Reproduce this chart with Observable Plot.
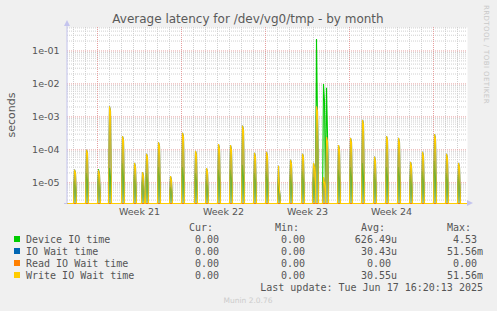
<!DOCTYPE html>
<html>
<head>
<meta charset="utf-8">
<script src="https://cdn.jsdelivr.net/npm/d3@7"></script>
<script src="https://cdn.jsdelivr.net/npm/@observablehq/plot@0.6"></script>
<style>
  html, body { margin: 0; padding: 0; background: #f0f0f0; }
  #chart { width: 497px; height: 311px; }
</style>
</head>
<body>
<div id="chart"></div>
<script>
// ---------- data ----------
const titleText = "Average latency for /dev/vg0/tmp - by month";
const yLabel = "seconds";
const yTicks = [1e-5, 1e-4, 1e-3, 1e-2, 1e-1];
const yTickLabels = ["1e-05", "1e-04", "1e-03", "1e-02", "1e-01"];
const weekStarts = ["2025-05-19", "2025-05-26", "2025-06-02", "2025-06-09"];
const weekLabels = ["Week 21", "Week 22", "Week 23", "Week 24"];

// daily spikes: sample time, first and second 2-hour samples (seconds)
const spikeTimes = [
  "2025-05-17T02:00Z","2025-05-18T02:00Z","2025-05-19T02:00Z","2025-05-20T00:00Z",
  "2025-05-21T02:00Z","2025-05-22T02:00Z","2025-05-22T18:00Z","2025-05-23T02:00Z",
  "2025-05-24T02:00Z","2025-05-25T02:00Z","2025-05-26T02:00Z","2025-05-27T04:00Z",
  "2025-05-28T02:00Z","2025-05-29T02:00Z","2025-05-30T02:00Z","2025-05-31T02:00Z",
  "2025-06-01T02:00Z","2025-06-02T02:00Z","2025-06-03T02:00Z","2025-06-04T02:00Z",
  "2025-06-05T02:00Z","2025-06-06T00:00Z","2025-06-06T06:00Z","2025-06-06T20:00Z",
  "2025-06-07T02:00Z","2025-06-08T02:00Z","2025-06-09T02:00Z","2025-06-10T02:00Z",
  "2025-06-11T02:00Z","2025-06-12T02:00Z","2025-06-13T02:00Z","2025-06-14T02:00Z",
  "2025-06-15T02:00Z","2025-06-16T02:00Z","2025-06-17T02:00Z","2025-06-18T02:00Z"
];
const writeWaitA = [2.5e-5,1.0e-4,2.4e-5,2.1e-3,2.6e-4,4.0e-5,2.1e-5,7.6e-5,
  1.7e-4,1.6e-5,3.3e-4,9.3e-5,2.8e-5,1.5e-4,1.4e-4,5.4e-4,
  8.1e-5,8.7e-5,3.3e-5,5.0e-5,7.6e-5,4.0e-5,2.1e-3,1.5e-5,
  2.5e-4,1.4e-4,2.3e-4,8.1e-4,6.2e-5,2.6e-4,2.3e-4,4.3e-5,
  8.7e-5,3.0e-4,7.6e-5,4.0e-5];
const writeWaitB = [2.0e-5,8.0e-5,1.8e-5,1.5e-3,2.0e-4,3.0e-5,1.6e-5,6.0e-5,
  1.3e-4,1.2e-5,2.5e-4,7.0e-5,2.2e-5,1.1e-4,1.0e-4,4.0e-4,
  6.0e-5,6.5e-5,6.0e-6,3.8e-5,6.0e-5,3.0e-5,1.5e-3,1.0e-5,
  1.8e-4,1.0e-4,1.7e-4,6.0e-4,4.5e-5,2.0e-4,1.7e-4,3.2e-5,
  6.5e-5,2.2e-4,5.5e-5,3.0e-5];
const ioWaitA = writeWaitA;   // IO Wait time is drawn identical to Write IO Wait time
const ioWaitB = writeWaitB;
const deviceA = [1.2e-5,2.0e-5,2.6e-5,2.8e-5,3.9e-5,1.8e-5,1.2e-5,2.0e-5,
  3.0e-5,7.5e-6,3.0e-5,2.0e-5,1.2e-5,2.5e-5,2.5e-5,3.5e-5,
  2.0e-5,2.2e-5,1.5e-5,1.8e-5,2.2e-5,1.5e-5,2.3e-1,1.0e-2,
  7.6e-3,2.5e-5,3.0e-5,4.0e-5,2.0e-5,3.0e-5,3.0e-5,1.8e-5,
  2.2e-5,4.6e-5,2.0e-5,1.8e-5];
const deviceB = [8.0e-6,1.2e-5,1.0e-5,1.5e-5,1.5e-5,1.0e-5,8.0e-6,1.2e-5,
  1.5e-5,6.0e-6,1.5e-5,1.2e-5,8.0e-6,1.3e-5,1.3e-5,1.5e-5,
  1.2e-5,1.2e-5,5.0e-6,1.0e-5,1.2e-5,1.0e-5,8.0e-4,3.0e-3,
  3.0e-4,1.3e-5,1.5e-5,1.5e-5,1.2e-5,1.5e-5,1.5e-5,1.0e-5,
  1.2e-5,1.5e-5,1.2e-5,1.0e-5];

const seriesNames = ["Device IO time", "IO Wait time", "Read IO Wait time", "Write IO Wait time"];
const seriesColors = ["#00cc00", "#0066b3", "#ff8000", "#ffcc00"];
const curVals = ["0.00", "0.00", "0.00", "0.00"];
const minVals = ["0.00", "0.00", "0.00", "0.00"];
const avgVals = ["626.49u", "30.43u", "0.00", "30.55u"];
const maxVals = ["4.53", "51.56m", "0.00", "51.56m"];
const lastUpdate = "Last update: Tue Jun 17 16:20:13 2025";
const footer = "Munin 2.0.76";
const sideText = "RRDTOOL / TOBI OETIKER";

// ---------- build series ----------
const xDomain = [new Date("2025-05-16T12:00Z"), new Date("2025-06-18T20:00Z")];
const yDomain = [2.36e-6, 0.515];
const H2 = 2 * 3600 * 1000;

function buildSeries(a, b) {
  const out = [{t: xDomain[0], v: 0}];
  spikeTimes.forEach((s, i) => {
    const t = new Date(s);
    out.push({t: new Date(+t - H2), v: 0});
    out.push({t: t, v: a ? a[i] : 0});
    out.push({t: new Date(+t + H2), v: b ? b[i] : 0});
    out.push({t: new Date(+t + 2 * H2), v: 0});
  });
  out.push({t: xDomain[1], v: 0});
  out.sort((p, q) => p.t - q.t);
  return out;
}
const series = [
  buildSeries(deviceA, deviceB),
  buildSeries(ioWaitA, ioWaitB),
  buildSeries(null, null),          // Read IO Wait time: all zero
  buildSeries(writeWaitA, writeWaitB)
];

const minorY = [];
for (let e = -6; e <= 0; e++) for (let m = 2; m <= 9; m++) {
  const v = m * Math.pow(10, e);
  if (v > yDomain[0] && v < yDomain[1]) minorY.push(v);
}
const weekGrid = d3.utcMonday.range(xDomain[0], xDomain[1]);
const dayGrid = d3.utcDay.range(xDomain[0], xDomain[1]).filter(d => d.getUTCDay() !== 1);
const weekMid = weekStarts.map(s => new Date(+new Date(s + "T00:00Z") + 3.5 * 24 * 3600 * 1000));

const clampY = d => Math.max(d.v, yDomain[0]);

const chart = Plot.plot({
  width: 497, height: 311,
  marginLeft: 67, marginRight: 30, marginTop: 27, marginBottom: 108,
  style: {background: "#f0f0f0", fontFamily: "'DejaVu Sans', sans-serif", fontSize: "9.5px", color: "#555", overflow: "visible"},
  x: {type: "utc", domain: xDomain, axis: null, label: null},
  y: {type: "log", domain: yDomain, axis: null, label: null},
  marks: [
    Plot.frame({fill: "white", stroke: null}),
    Plot.ruleY(minorY, {stroke: "#d0d0d0", strokeDasharray: "1,1"}),
    Plot.ruleX(dayGrid, {stroke: "#d0d0d0", strokeDasharray: "1,1"}),
    Plot.ruleY(yTicks, {stroke: "#e6a0a0", strokeDasharray: "1,1"}),
    Plot.ruleX(weekGrid, {stroke: "#e6a0a0", strokeDasharray: "1,1"}),
    Plot.axisY({ticks: yTicks, tickSize: 0, tickPadding: 8, fill: "#555", label: null,
      tickFormat: d => yTickLabels[yTicks.findIndex(t => Math.abs(Math.log10(t) - Math.log10(d)) < 1e-6)]}),
    Plot.axisX({ticks: weekMid, tickSize: 0, tickPadding: 5, fill: "#555", label: null,
      tickFormat: d => weekLabels[weekMid.findIndex(w => +w === +d)]}),
    // olive body where the overlapping thin lines blend inside each spike
    Plot.areaY(series[3], {x: "t", y: clampY, y1: () => yDomain[0], fill: "#8fa048", fillOpacity: 0.55}),
    ...series.map((s, i) => Plot.line(s, {x: "t", y: clampY, stroke: seriesColors[i], strokeWidth: 1.1, strokeLinejoin: "miter", strokeLinecap: "butt"}))
  ]
});

const svg = d3.select(chart);
const axisColor = "#c4c4ee";
svg.append("line").attr("x1", 67).attr("x2", 67).attr("y1", 203.5).attr("y2", 22).attr("stroke", axisColor);
svg.append("path").attr("d", "M64,26 L70,26 L67,20 Z").attr("fill", axisColor);
svg.append("path").attr("d", "M467,200 L467,206 L473,203 Z").attr("fill", axisColor);
svg.append("line").attr("x1", 64).attr("x2", 67).attr("y1", 203.5).attr("y2", 203.5).attr("stroke", axisColor);

svg.append("text").attr("x", 248).attr("y", 23).attr("text-anchor", "middle")
  .attr("font-size", "12px").attr("fill", "#5a5a5a").text(titleText);
svg.append("text").attr("transform", "translate(15,115) rotate(-90)").attr("text-anchor", "middle")
  .attr("font-size", "11px").attr("fill", "#555").text(yLabel);
svg.append("text").attr("transform", "translate(484,5) rotate(90)").attr("text-anchor", "start")
  .attr("font-size", "7px").attr("letter-spacing", "0.4px").attr("fill", "#c8c8c8").text(sideText);

const mono = "'DejaVu Sans Mono', monospace";
const lg = svg.append("g").attr("font-family", mono).attr("font-size", "10px").attr("fill", "#555").attr("text-anchor", "start");
[["Cur:", 189], ["Min:", 275], ["Avg:", 361], ["Max:", 447]].forEach(([t, x]) =>
  lg.append("text").attr("x", x).attr("y", 231).attr("text-anchor", "start").text(t));
const colEnd = [219, 305, 391, 477];
const cols = [curVals, minVals, avgVals, maxVals];
seriesNames.forEach((name, i) => {
  const yb = 243 + i * 12;
  lg.append("rect").attr("x", 14).attr("y", yb - 7).attr("width", 6).attr("height", 6).attr("fill", seriesColors[i]);
  lg.append("text").attr("x", 26).attr("y", yb).attr("text-anchor", "start").text(name);
  cols.forEach((c, j) => {
    const s = c[i];
    const hasUnit = /[a-zA-Z]$/.test(s);
    lg.append("text").attr("x", colEnd[j] + (hasUnit ? 6 : 0)).attr("y", yb).attr("text-anchor", "end").text(s);
  });
});
lg.append("text").attr("x", 483).attr("y", 291).attr("text-anchor", "end").text(lastUpdate);
svg.append("text").attr("x", 248).attr("y", 303).attr("text-anchor", "middle")
  .attr("font-size", "7.5px").attr("fill", "#cccccc").text(footer);

document.getElementById("chart").appendChild(chart);
</script>
</body>
</html>
